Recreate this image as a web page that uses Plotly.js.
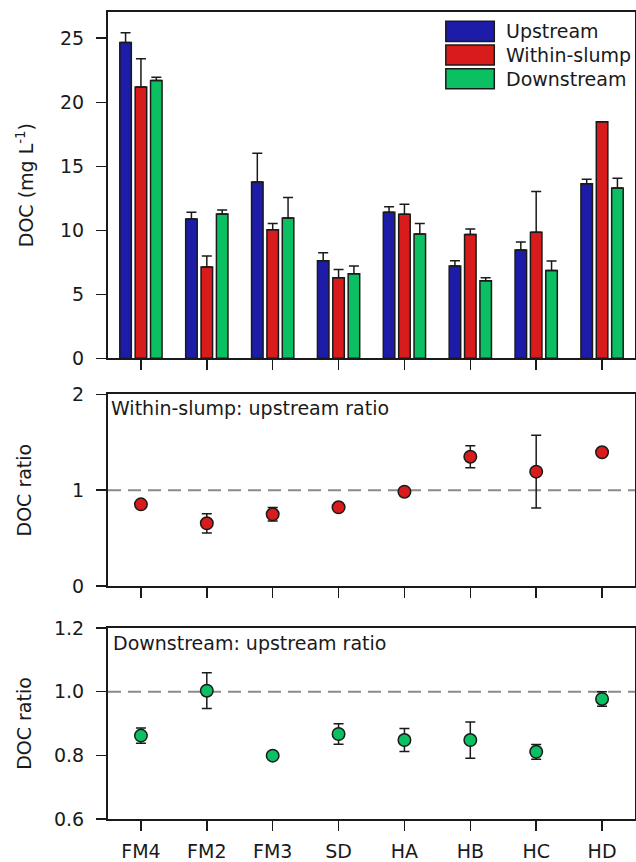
<!DOCTYPE html>
<html>
<head>
<meta charset="utf-8">
<script src="https://cdn.plot.ly/plotly-3.0.1.min.js"></script>
<style>html,body{margin:0;padding:0;background:#fff;}#chart{width:636px;height:862px;}</style>
</head>
<body>
<div id="chart"></div>
<script>
// ---- data ----
const sites = ['FM4', 'FM2', 'FM3', 'SD', 'HA', 'HB', 'HC', 'HD'];
const seriesNames = ['Upstream', 'Within-slump', 'Downstream'];

const upstream       = [24.67, 10.88, 13.78, 7.62, 11.40, 7.20, 8.46, 13.63];
const upstreamErr    = [0.75, 0.52, 2.24, 0.63, 0.43, 0.42, 0.62, 0.36];
const withinSlump    = [21.19, 7.13, 10.05, 6.29, 11.25, 9.66, 9.84, 18.48];
const withinSlumpErr = [2.20, 0.86, 0.47, 0.65, 0.78, 0.44, 3.18, null];
const downstream     = [21.69, 11.28, 10.96, 6.60, 9.71, 6.05, 6.86, 13.31];
const downstreamErr  = [0.26, 0.31, 1.60, 0.60, 0.81, 0.24, 0.74, 0.76];

const withinRatio    = [0.852, 0.654, 0.748, 0.821, 0.984, 1.349, 1.193, 1.395];
const withinRatioErr = [0.02, 0.10, 0.07, 0.03, 0.03, 0.115, 0.38, 0.02];
const downRatio      = [0.862, 1.003, 0.799, 0.867, 0.848, 0.848, 0.811, 0.977];
const downRatioErr   = [0.024, 0.056, 0.01, 0.032, 0.036, 0.057, 0.023, 0.023];

const panelLabels = ['Within-slump: upstream ratio', 'Downstream: upstream ratio'];
const refRatio = 1;

// ---- styles ----
const colors = ['#1c1ca8', '#d81c1c', '#0bbf63'];
const ink = '#1a1a1a';
const FONT = 'DejaVu Sans, Arial, sans-serif';
const FS = 19;

function barTrace(name, y, err, color) {
  return {
    type: 'bar', name: name, x: sites, y: y, xaxis: 'x', yaxis: 'y',
    marker: {color: color, line: {color: ink, width: 1.5}},
    error_y: {type: 'data', symmetric: false, array: err,
              arrayminus: err.map(function(){ return 0; }),
              color: ink, thickness: 1.5, width: 5},
    showlegend: false
  };
}
function ratioTrace(y, err, color, xa, ya) {
  return {
    type: 'scatter', mode: 'markers', x: sites, y: y, xaxis: xa, yaxis: ya,
    marker: {color: color, size: 12.5, line: {color: ink, width: 1.5}},
    error_y: {type: 'data', array: err, color: ink, thickness: 1.5, width: 5},
    showlegend: false
  };
}

const traces = [
  barTrace(seriesNames[0], upstream, upstreamErr, colors[0]),
  barTrace(seriesNames[1], withinSlump, withinSlumpErr, colors[1]),
  barTrace(seriesNames[2], downstream, downstreamErr, colors[2]),
  ratioTrace(withinRatio, withinRatioErr, colors[1], 'x2', 'y2'),
  ratioTrace(downRatio, downRatioErr, colors[2], 'x3', 'y3')
];

const axisBase = {
  showline: true, mirror: true, linewidth: 2, linecolor: ink,
  ticks: 'outside', ticklen: 10, tickwidth: 1.5, tickcolor: ink,
  showgrid: false, zeroline: false,
  tickfont: {family: FONT, size: FS, color: ink}
};
function xAxis(anchor, showLabels) {
  return Object.assign({}, axisBase, {
    anchor: anchor, type: 'category', categoryorder: 'array', categoryarray: sites,
    range: [-0.5, sites.length - 0.5], domain: [0, 1],
    showticklabels: showLabels, ticklabelstandoff: 4
  });
}
function yAxis(anchor, domain, range, dtick, fmt, title, standoff) {
  return Object.assign({}, axisBase, {
    anchor: anchor, domain: domain, range: range, dtick: dtick, tick0: 0,
    tickformat: fmt, ticklabelstandoff: 8,
    title: {text: title, font: {family: FONT, size: FS, color: ink}, standoff: standoff}
  });
}

// legend drawn as boxes + text in the top panel
const legendShapes = [];
const legendAnn = [];
const legTop = [0.973, 0.905, 0.836];
seriesNames.forEach(function(n, i) {
  legendShapes.push({type: 'rect', xref: 'x domain', yref: 'y domain',
    x0: 0.641, x1: 0.733, y0: legTop[i] - 0.058, y1: legTop[i],
    fillcolor: colors[i], line: {color: ink, width: 1.5}});
  legendAnn.push({xref: 'x domain', yref: 'y domain', x: 0.752, y: legTop[i] - 0.029,
    xanchor: 'left', yanchor: 'middle', text: n, showarrow: false,
    font: {family: FONT, size: FS, color: ink}});
});

const layout = {
  width: 636, height: 862,
  margin: {l: 108, r: 1, t: 12, b: 43},
  paper_bgcolor: '#fff', plot_bgcolor: '#fff',
  font: {family: FONT, size: FS, color: ink},
  barmode: 'group', bargap: 0.30, bargroupgap: 0.25,
  showlegend: false,
  xaxis: xAxis('y', false),
  xaxis2: xAxis('y2', false),
  xaxis3: xAxis('y3', true),
  yaxis: yAxis('x', [0.5709, 1], [0, 27.05], 5, '', 'DOC (mg L<sup>-1</sup>)', 21),
  yaxis2: yAxis('x2', [0.2887, 0.5263], [0, 2], 1, '', 'DOC ratio', 35),
  yaxis3: yAxis('x3', [0, 0.2367], [0.6, 1.2], 0.2, '.1f', 'DOC ratio', 17),
  shapes: legendShapes.concat([
    {type: 'line', xref: 'x2 domain', yref: 'y2', x0: 0, x1: 1, y0: refRatio, y1: refRatio,
     layer: 'below', line: {color: '#8a8a8a', width: 2, dash: '13px,7px'}},
    {type: 'line', xref: 'x3 domain', yref: 'y3', x0: 0, x1: 1, y0: refRatio, y1: refRatio,
     layer: 'below', line: {color: '#8a8a8a', width: 2, dash: '13px,7px'}}
  ]),
  annotations: legendAnn.concat([
    {xref: 'x2 domain', yref: 'y2 domain', x: 0.002, y: 0.927, xanchor: 'left', yanchor: 'middle',
     text: panelLabels[0], showarrow: false, font: {family: FONT, size: FS, color: ink}},
    {xref: 'x3 domain', yref: 'y3 domain', x: 0.006, y: 0.924, xanchor: 'left', yanchor: 'middle',
     text: panelLabels[1], showarrow: false, font: {family: FONT, size: FS, color: ink}}
  ])
};

Plotly.newPlot('chart', traces, layout, {displayModeBar: false, staticPlot: true});
</script>
</body>
</html>
